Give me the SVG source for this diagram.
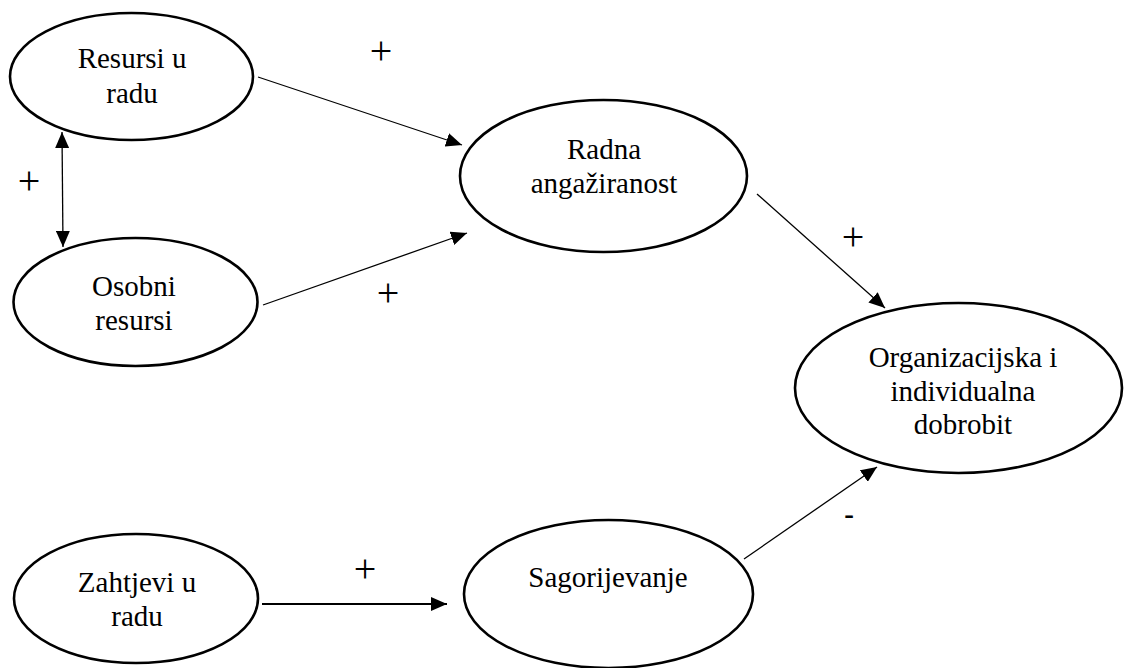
<svg xmlns="http://www.w3.org/2000/svg" width="1124" height="668" viewBox="0 0 1124 668">
<style>
.node ellipse{fill:#fff;stroke:#000;stroke-width:2.6}
text{font-family:"Liberation Serif","Times New Roman",serif;font-size:29px;fill:#000;text-anchor:middle}
text.sign{font-size:40px}
.conn line{stroke:#000;stroke-width:1.3;fill:none}
</style>
<defs>
<marker id="ah" viewBox="0 0 16 14" markerWidth="16" markerHeight="14" refX="16" refY="7" orient="auto-start-reverse" markerUnits="userSpaceOnUse">
<path d="M0,0 L16,7 L0,14 z" fill="#000"/>
</marker>
</defs>
<rect width="1124" height="668" fill="#fff"/>
<g id="connectors" class="conn">
<line x1="258" y1="77" x2="462" y2="145" marker-end="url(#ah)"/>
<line x1="263" y1="305" x2="467" y2="233" marker-end="url(#ah)"/>
<line x1="62" y1="132" x2="63" y2="247" marker-start="url(#ah)" marker-end="url(#ah)"/>
<line x1="757" y1="194" x2="885" y2="308" marker-end="url(#ah)"/>
<line x1="262" y1="604" x2="447" y2="604" style="stroke-width:2" marker-end="url(#ah)"/>
<line x1="744" y1="559" x2="877" y2="467" marker-end="url(#ah)"/>
</g>
<g id="labels">
<text class="sign" x="381" y="64">+</text>
<text class="sign" x="29" y="194">+</text>
<text class="sign" x="388" y="306">+</text>
<text class="sign" x="853" y="250">+</text>
<text class="sign" x="365" y="582">+</text>
<text x="849" y="524" style="font-weight:bold">-</text>
</g>
<g id="resursi" class="node">
<ellipse cx="131.5" cy="76.5" rx="121.5" ry="63.5"/>
<text x="132" y="68">Resursi u</text>
<text x="132" y="103">radu</text>
</g>
<g id="osobni" class="node">
<ellipse cx="135.5" cy="302" rx="122" ry="64"/>
<text x="134" y="296">Osobni</text>
<text x="134" y="330">resursi</text>
</g>
<g id="radna" class="node">
<ellipse cx="603.5" cy="176" rx="143.5" ry="76"/>
<text x="604" y="159">Radna</text>
<text x="604" y="193">angažiranost</text>
</g>
<g id="organizacijska" class="node">
<ellipse cx="958.5" cy="388" rx="163.5" ry="85"/>
<text x="963" y="367">Organizacijska i</text>
<text x="963" y="401">individualna</text>
<text x="963" y="434">dobrobit</text>
</g>
<g id="zahtjevi" class="node">
<ellipse cx="136" cy="598.5" rx="122" ry="64.5"/>
<text x="137" y="592">Zahtjevi u</text>
<text x="137" y="626">radu</text>
</g>
<g id="sagorijevanje" class="node">
<ellipse cx="608.5" cy="594" rx="144.5" ry="74"/>
<text x="608" y="587">Sagorijevanje</text>
</g>
</svg>
